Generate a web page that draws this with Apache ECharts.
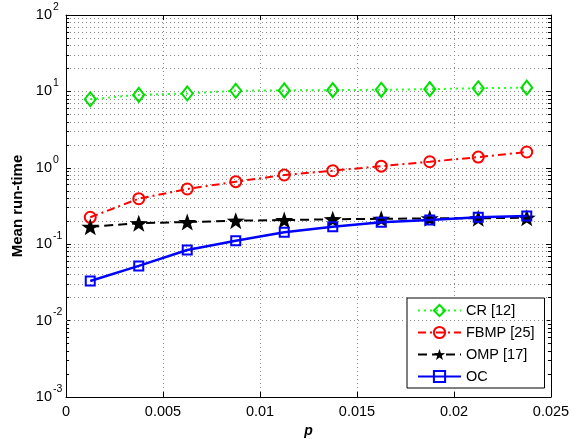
<!DOCTYPE html>
<html>
<head>
<meta charset="utf-8">
<script src="https://cdn.jsdelivr.net/npm/echarts@6/dist/echarts.min.js"></script>
<style>html,body{margin:0;padding:0;background:#fff;}#c{width:577px;height:439px;}</style>
</head>
<body>
<div id="c"></div>
<script>
const xValues = [0.00125, 0.00375, 0.00625, 0.00875, 0.01125, 0.01375, 0.01625, 0.01875, 0.02125, 0.02375];
const crValues = [7.9, 9.0, 9.4, 10.2, 10.3, 10.4, 10.5, 10.7, 11.0, 11.2];
const fbmpValues = [0.225, 0.394, 0.528, 0.658, 0.805, 0.916, 1.05, 1.2, 1.38, 1.61];
const ompValues = [0.169, 0.188, 0.195, 0.203, 0.207, 0.212, 0.215, 0.218, 0.218, 0.222];
const ocValues = [0.033, 0.052, 0.084, 0.111, 0.143, 0.169, 0.194, 0.207, 0.225, 0.234];
const seriesNames = ['CR [12]', 'FBMP [25]', 'OMP [17]', 'OC'];
const xTickLabels = ['0', '0.005', '0.01', '0.015', '0.02', '0.025'];
const yTickBase = '10';

const FONT = 'Liberation Sans, Arial, Helvetica, sans-serif';
const pairs = vals => xValues.map((x, i) => [x, vals[i]]);

// minor log positions 2..9 within each decade
const minorVals = [];
for (let d = -3; d < 2; d++) {
  for (let k = 2; k <= 9; k++) minorVals.push(+(k * Math.pow(10, d)).toPrecision(3));
}
const X_MIN = 0, X_MAX = 0.025;
const tickLen = 0.00016; // ~3px in x units
const minorTickSegs = [];
minorVals.forEach(v => {
  minorTickSegs.push([{ coord: [X_MIN, v] }, { coord: [X_MIN + tickLen, v] }]);
  minorTickSegs.push([{ coord: [X_MAX - tickLen, v] }, { coord: [X_MAX, v] }]);
});

const starPath = 'path://M0,-10L2.35,-3.24L9.51,-3.09L3.8,1.24L5.88,8.09L0,4L-5.88,8.09L-3.8,1.24L-9.51,-3.09L-2.35,-3.24Z';

const expOf = v => {
  const e = Math.round(Math.log10(v));
  return e < 0 ? '-' + (-e) : String(e);
};
const gridLine = { show: true, lineStyle: { color: '#8a8a8a', width: 1, type: [1, 3] } };
const yBase = { type: 'log', logBase: 10, min: 0.001, max: 100 };

const chart = echarts.init(document.getElementById('c'), null, { renderer: 'canvas' });
chart.setOption({
  animation: false,
  backgroundColor: '#fff',
  grid: { left: 66, right: 26, top: 15, bottom: 42, containLabel: false, outerBoundsMode: 'none' },
  xAxis: [{
    type: 'value', min: X_MIN, max: X_MAX, interval: 0.005,
    position: 'bottom',
    axisLine: { show: true, onZero: false, lineStyle: { color: '#000', width: 1 } },
    axisTick: { show: true, inside: true, length: 5, lineStyle: { color: '#000' } },
    axisLabel: { margin: 7, fontSize: 14.5, fontFamily: FONT, color: '#000',
      formatter: v => xTickLabels[Math.round(v / 0.005)] },
    splitLine: gridLine,
    name: 'p', nameLocation: 'middle', nameGap: 25,
    nameTextStyle: { fontSize: 14, fontWeight: 'bold', fontStyle: 'italic', fontFamily: FONT, color: '#000' }
  }, {
    type: 'value', min: X_MIN, max: X_MAX, interval: 0.005,
    position: 'top',
    axisLine: { show: true, onZero: false, lineStyle: { color: '#000', width: 1 } },
    axisTick: { show: true, inside: true, length: 5, lineStyle: { color: '#000' } },
    axisLabel: { show: false }, splitLine: { show: false }
  }],
  yAxis: [Object.assign({}, yBase, {
    position: 'left',
    axisLine: { show: true, onZero: false, lineStyle: { color: '#000', width: 1 } },
    axisTick: { show: true, inside: true, length: 5, lineStyle: { color: '#000' } },
    axisLabel: { margin: 14, fontSize: 14.5, fontFamily: FONT, color: '#000',
      formatter: () => yTickBase },
    splitLine: gridLine,
    name: 'Mean run-time', nameLocation: 'middle', nameGap: 40,
    nameTextStyle: { fontSize: 15, fontWeight: 'bold', fontFamily: FONT, color: '#000' }
  }), Object.assign({}, yBase, {
    position: 'right',
    axisLine: { show: true, onZero: false, lineStyle: { color: '#000', width: 1 } },
    axisTick: { show: true, inside: true, length: 5, lineStyle: { color: '#000' } },
    axisLabel: { show: false }, splitLine: { show: false }
  }), Object.assign({}, yBase, {
    position: 'left',
    axisLine: { show: false }, axisTick: { show: false }, splitLine: { show: false },
    axisLabel: { margin: 13, align: 'left', verticalAlign: 'bottom', lineHeight: 16,
      fontSize: 10.5, fontFamily: FONT, color: '#000', formatter: expOf }
  })],
  legend: {
    data: seriesNames,
    orient: 'vertical', left: 407, top: 298,
    backgroundColor: '#fff', borderColor: '#000', borderWidth: 1, borderRadius: 0,
    padding: [5, 10, 4, 10],
    itemWidth: 43, itemHeight: 14, itemGap: 7,
    textStyle: { fontSize: 14.5, lineHeight: 13, fontFamily: FONT, color: '#000' }
  },
  series: [{
    name: 'grid-minor', type: 'line', data: [], z: 1, silent: true,
    markLine: {
      silent: true, symbol: ['none', 'none'], animation: false,
      label: { show: false },
      lineStyle: { color: '#8a8a8a', width: 1, type: [1, 3] },
      emphasis: { disabled: true },
      data: minorVals.map(v => ({ yAxis: v }))
    }
  }, {
    name: 'ticks-minor', type: 'line', data: [], z: 3, silent: true,
    markLine: {
      silent: true, symbol: ['none', 'none'], animation: false,
      label: { show: false },
      lineStyle: { color: '#000', width: 1, type: 'solid' },
      emphasis: { disabled: true },
      data: minorTickSegs
    }
  }, {
    name: seriesNames[0], type: 'line', data: pairs(crValues), z: 5,
    symbol: 'diamond', symbolSize: [11, 14],
    lineStyle: { color: '#22ff22', width: 2, type: [2, 4] },
    itemStyle: { color: 'rgba(255,255,255,0)', borderColor: '#00e000', borderWidth: 2 }
  }, {
    name: seriesNames[1], type: 'line', data: pairs(fbmpValues), z: 5,
    symbol: 'circle', symbolSize: 11,
    lineStyle: { color: '#ff0000', width: 2, type: [8, 4, 2, 4] },
    itemStyle: { color: 'rgba(255,255,255,0)', borderColor: '#ff0000', borderWidth: 2 }
  }, {
    name: seriesNames[2], type: 'line', data: pairs(ompValues), z: 5,
    symbol: starPath, symbolSize: [18, 17],
    lineStyle: { color: '#000000', width: 2, type: [9, 5] },
    itemStyle: { color: '#000000', borderColor: '#000000', borderWidth: 0 }
  }, {
    name: seriesNames[3], type: 'line', data: pairs(ocValues), z: 6,
    symbol: 'rect', symbolSize: 9,
    lineStyle: { color: '#0000ff', width: 2.5, type: 'solid' },
    itemStyle: { color: 'rgba(255,255,255,0)', borderColor: '#0000ff', borderWidth: 2 }
  }]
});
</script>
</body>
</html>
